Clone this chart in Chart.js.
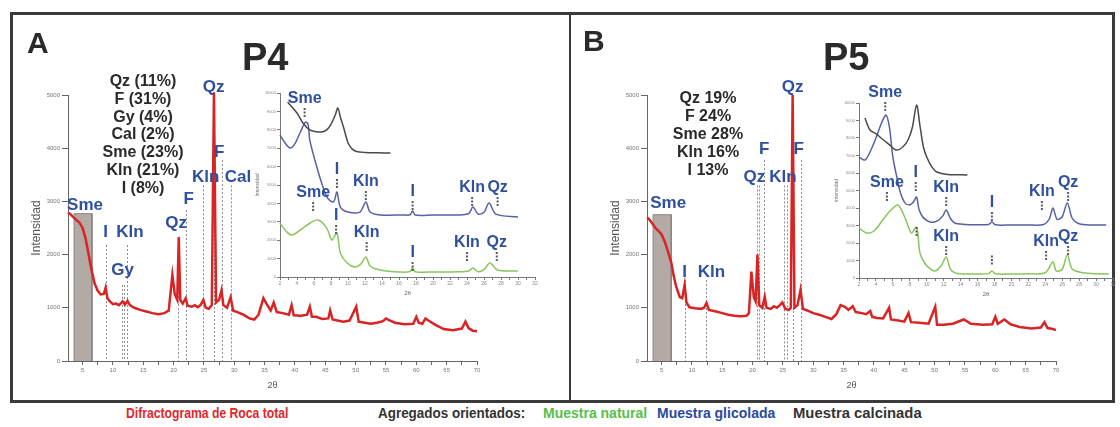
<!DOCTYPE html>
<html>
<head>
<meta charset="utf-8">
<script src="https://cdn.jsdelivr.net/npm/chart.js@4.4.1/dist/chart.umd.min.js"></script>
<style>
    body { margin: 0; background: #fff; }
    #fig { position: relative; width: 1120px; height: 427px; overflow: hidden; font-family: Arial, "Liberation Sans", sans-serif; }
    canvas { position: absolute; }
    .frame { position: absolute; border: 3px solid #3a3a3a; box-sizing: border-box; }
    .txt { position: absolute; white-space: nowrap; color: #2a2a2a; font-weight: bold; }
    .comp { position: absolute; text-align: center; font-weight: bold; font-size: 16px; line-height: 17.8px; color: #2a2a2a; white-space: nowrap; }
    .leg { position: absolute; top: 405px; font-family: Arial, "Liberation Sans", sans-serif; font-weight: bold; font-size: 14px; line-height: 16px; white-space: nowrap; transform-origin: left center; }
</style>
</head>
<body>
<div id="fig">
    <div class="frame" style="left:10px;top:12px;width:1105px;height:391px"></div>
    <div style="position:absolute;left:569px;top:12px;width:2px;height:391px;background:#3a3a3a"></div>

    <canvas id="mainA" width="556" height="382" style="left:12px;top:14px"></canvas>
    <canvas id="mainB" width="530" height="382" style="left:590px;top:14px"></canvas>
    <canvas id="insetA" width="300" height="225" style="left:240px;top:80px"></canvas>
    <canvas id="insetB" width="300" height="230" style="left:820px;top:75px"></canvas>

    <div class="txt" style="left:27px;top:28px;font-size:30px;line-height:30px">A</div>
    <div class="txt" style="left:242px;top:38px;font-size:38px;line-height:38px">P4</div>
    <div class="txt" style="left:583px;top:26px;font-size:30px;line-height:30px">B</div>
    <div class="txt" style="left:823px;top:38px;font-size:38px;line-height:38px">P5</div>

    <div class="comp" style="left:63px;top:72px;width:160px">Qz (11%)<br>F (31%)<br>Gy (4%)<br>Cal (2%)<br>Sme (23%)<br>Kln (21%)<br>I (8%)</div>
    <div class="comp" style="left:628px;top:89px;width:160px;line-height:18px">Qz 19%<br>F 24%<br>Sme 28%<br>Kln 16%<br>I 13%</div>

    <div class="leg" style="left:126px;color:#e0282c;transform:scaleX(0.87)">Difractograma de Roca total</div>
    <div class="leg" style="left:378px;color:#333;transform:scaleX(0.96)">Agregados orientados:</div>
    <div class="leg" style="left:543px;color:#55bf48">Muestra natural</div>
    <div class="leg" style="left:657px;color:#2a4aa0">Muestra glicolada</div>
    <div class="leg" style="left:793px;color:#333;transform:scaleX(1.06)">Muestra calcinada</div>
</div>

<script>
// roca total, [2θ, intensidad]
const rockP4 = [
    [2.6, 2790], [3.0, 2760], [3.5, 2700], [4.0, 2650], [4.5, 2600], [5.0, 2500], [5.5, 2300], [6.0, 2000],
    [6.5, 1700], [7.0, 1450], [7.5, 1320], [8.0, 1250], [8.5, 1260], [8.8, 1380], [9.1, 1180], [9.5, 1120],
    [10.0, 1070], [10.5, 1080], [11.0, 1050], [11.6, 1120], [12.0, 1060], [12.4, 1130], [12.8, 1050],
    [13.5, 1000], [14.5, 960], [15.5, 930], [16.5, 900], [17.5, 880], [18.5, 900], [19.2, 950], [19.8, 1620],
    [20.2, 1250], [20.6, 1150], [20.85, 2330], [21.1, 1150], [21.5, 1080], [22.0, 1180], [22.3, 1040],
    [23.0, 1020], [23.5, 1050], [24.0, 1010], [24.5, 1060], [24.9, 1150], [25.3, 1000], [25.8, 980],
    [26.3, 1050], [26.65, 5050], [27.0, 1100], [27.5, 1150], [27.9, 1330], [28.2, 1050], [28.8, 1000],
    [29.4, 1200], [29.8, 950], [30.5, 920], [31.5, 870], [32.5, 800], [33.3, 780], [34.0, 870], [34.8, 1180],
    [35.3, 1080], [36.0, 950], [36.5, 1100], [37.0, 920], [38.0, 900], [39.0, 870], [39.45, 1050], [39.8, 860],
    [41.0, 850], [42.0, 870], [42.45, 1020], [42.8, 830], [43.5, 830], [44.5, 790], [45.5, 800], [45.8, 950],
    [46.2, 780], [47.0, 760], [48.0, 740], [49.0, 760], [50.1, 1020], [50.5, 740], [51.5, 720], [52.5, 700],
    [53.5, 720], [54.5, 750], [55.0, 800], [55.5, 770], [56.5, 720], [58.0, 690], [59.5, 700], [60.0, 830],
    [60.4, 720], [61.0, 700], [61.5, 800], [62.0, 760], [63.0, 690], [64.5, 600], [66.0, 580], [67.5, 610],
    [68.1, 740], [68.6, 620], [69.3, 570], [70.0, 560]
];
const rockP5 = [
    [2.6, 2700], [3.0, 2660], [3.5, 2580], [4.0, 2500], [4.5, 2440], [5.0, 2380], [5.5, 2250], [6.0, 2080],
    [6.6, 1850], [7.0, 1600], [7.4, 1400], [8.0, 1200], [8.4, 1180], [8.8, 1430], [9.1, 1100], [9.6, 1010],
    [10.5, 990], [11.5, 980], [12.0, 1000], [12.4, 1090], [12.8, 960], [14.0, 930], [15.0, 900], [16.0, 870],
    [17.0, 850], [18.0, 840], [19.0, 850], [19.4, 900], [19.8, 1680], [20.2, 1200], [20.5, 1120], [20.8, 2000],
    [21.1, 1050], [21.6, 1000], [22.0, 1210], [22.3, 1000], [23.0, 980], [23.5, 1030], [24.0, 1000],
    [24.5, 1050], [24.9, 1100], [25.4, 980], [26.0, 960], [26.3, 1000], [26.6, 5000], [26.9, 1000],
    [27.4, 1050], [27.9, 1340], [28.3, 980], [29.0, 950], [30.0, 900], [31.0, 870], [32.0, 830], [33.0, 790],
    [33.8, 880], [34.5, 1050], [35.2, 1020], [35.8, 960], [36.5, 1030], [37.0, 920], [38.0, 900], [38.7, 880],
    [39.4, 940], [39.7, 830], [40.5, 810], [41.5, 800], [42.5, 1000], [42.8, 780], [44.0, 760], [45.0, 740],
    [45.7, 900], [46.1, 730], [47.5, 720], [49.0, 700], [50.1, 1020], [50.4, 680], [51.5, 680], [53.0, 700],
    [54.8, 780], [56.0, 700], [58.0, 680], [59.5, 690], [60.0, 830], [60.4, 700], [61.5, 780], [62.5, 690],
    [64.0, 640], [66.0, 610], [67.5, 630], [68.1, 730], [68.6, 620], [69.5, 600], [70.0, 580]
];
// zona sombreada de la esmectita [2θ inicio, 2θ fin, altura]
const smeBandP4 = [3.6, 6.55, 2770];
const smeBandP5 = [3.6, 6.6, 2750];

// agregados orientados
const naturalP4 = [
    [2.0, 2930], [2.7, 2500], [3.4, 2280], [4.7, 2660], [5.6, 2950], [6.5, 3100], [7.5, 2660], [8.1, 2010],
    [8.7, 2390], [9.1, 1300], [9.9, 760], [10.8, 540], [11.5, 700], [12.1, 1090], [12.6, 600], [13.8, 380],
    [16.1, 270], [17.3, 300], [17.6, 500], [17.9, 290], [20.0, 270], [23.0, 280], [24.2, 330], [24.7, 490],
    [25.3, 290], [26.0, 400], [26.7, 760], [27.6, 380], [30.0, 330]
];
const glycolP4 = [
    [2.0, 7720], [2.6, 7280], [3.2, 7010], [3.8, 7280], [4.4, 7880], [5.0, 8420], [5.3, 8300], [5.5, 7450],
    [6.1, 6360], [6.9, 5110], [7.6, 4290], [8.3, 4080], [8.7, 4620], [9.1, 3800], [10.0, 3530], [11.4, 3530],
    [12.1, 4080], [12.6, 3530], [13.8, 3370], [16.5, 3370], [17.3, 3380], [17.6, 3590], [17.9, 3370],
    [20.0, 3370], [23.0, 3370], [24.2, 3450], [24.7, 3800], [25.3, 3420], [26.0, 3520], [26.6, 4020],
    [27.4, 3420], [30.0, 3260]
];
const calcP4 = [
    [2.9, 9510], [4.0, 8910], [4.7, 8370], [5.5, 7990], [6.2, 7900], [6.9, 7880], [7.5, 8000], [8.0, 8300],
    [8.5, 8800], [8.8, 9190], [9.1, 8700], [9.5, 8100], [10.0, 7300], [10.5, 6950], [11.0, 6820], [12.0, 6770],
    [13.5, 6750], [15.0, 6740]
];
const naturalP5 = [
    [2.0, 2860], [2.9, 2570], [3.8, 2700], [4.8, 3310], [5.8, 3900], [6.6, 4170], [7.2, 3700], [7.7, 3100],
    [8.2, 2570], [8.8, 2900], [9.2, 1430], [9.7, 900], [10.3, 560], [11.0, 400], [11.7, 700], [12.3, 1200],
    [12.8, 500], [13.4, 290], [15.0, 230], [17.3, 250], [17.7, 400], [18.1, 240], [20.0, 230], [22.0, 240],
    [24.0, 300], [24.9, 910], [25.3, 400], [26.0, 500], [26.6, 1310], [27.2, 500], [28.5, 300], [30.0, 240],
    [31.5, 230]
];
const glycolP5 = [
    [2.0, 6910], [2.7, 6740], [3.3, 7200], [4.0, 8000], [4.7, 8900], [5.2, 9310], [5.6, 8600], [6.0, 6910],
    [6.5, 5700], [6.9, 4860], [7.5, 4250], [8.1, 4200], [8.5, 4400], [8.8, 4630], [9.1, 3900], [9.6, 3450],
    [10.4, 3200], [11.2, 3250], [11.9, 3550], [12.3, 3890], [12.8, 3400], [13.3, 3140], [14.5, 3060],
    [16.0, 3040], [17.3, 3060], [17.7, 3200], [18.1, 3040], [20.0, 3030], [22.0, 3030], [23.8, 3060],
    [24.5, 3400], [24.9, 4000], [25.4, 3350], [26.0, 3500], [26.6, 4290], [27.2, 3400], [28.0, 3100],
    [29.5, 3030], [31.2, 3030]
];
const calcP5 = [
    [2.7, 9140], [3.3, 8460], [4.0, 8250], [4.6, 8000], [5.5, 7650], [6.4, 7310], [7.2, 7500], [7.8, 7900],
    [8.3, 8600], [8.8, 9890], [9.2, 8700], [9.6, 7500], [10.0, 6910], [10.6, 6350], [11.2, 6060],
    [12.5, 5920], [14.8, 5890]
];

// ticks
const mainTicks = [5, 7.5, 10, 12.5, 15, 17.5, 20, 22.5, 25, 27.5, 30, 32.5, 35, 37.5, 40, 42.5, 45, 47.5,
    50, 52.5, 55, 57.5, 60, 62.5, 65, 67.5, 70];
const insetTicks = [2, 3, 4, 5, 6, 7, 8, 9, 10, 11, 12, 13, 14, 15, 16, 17, 18, 19, 20, 21, 22, 23, 24, 25,
    26, 27, 28, 29, 30, 31, 32];

// picos: [2θ, tope de la linea]
const linesP4 = [[8.8, 2180], [11.5, 1430], [11.8, 1430], [12.4, 2180], [20.8, 2270], [22.0, 2840],
    [24.9, 3300], [26.6, 5000], [27.9, 3780], [29.4, 3300]];
const linesP5 = [[8.8, 1520], [12.4, 1520], [20.7, 3300], [21.0, 3300], [21.9, 3780], [25.2, 3300],
    [25.6, 3300], [26.6, 5000], [27.9, 3780]];
// etiquetas [2θ, intensidad, texto]
const labelsP4 = [[5.4, 2930, 'Sme'], [8.8, 2420, 'I'], [12.8, 2420, 'Kln'], [11.6, 1710, 'Gy'],
    [20.4, 2580, 'Qz'], [22.5, 3030, 'F'], [25.3, 3460, 'Kln'], [26.6, 5150, 'Qz'], [27.5, 3930, 'F'],
    [30.6, 3460, 'Cal']];
const labelsP5 = [[6.1, 2970, 'Sme'], [8.8, 1670, 'I'], [13.2, 1670, 'Kln'], [20.3, 3460, 'Qz'],
    [21.9, 3970, 'F'], [25.0, 3460, 'Kln'], [26.6, 5150, 'Qz'], [27.6, 3970, 'F']];
const insetLabelsP4 = [[4.9, 9670, 'Sme'], [8.7, 5820, 'I'], [12.1, 5160, 'Kln'], [5.9, 4570, 'Sme'],
    [17.6, 4620, 'I'], [24.6, 4840, 'Kln'], [27.6, 4840, 'Qz'], [8.6, 3320, 'I'], [12.2, 2390, 'Kln'],
    [17.6, 1300, 'I'], [24.0, 1850, 'Kln'], [27.5, 1850, 'Qz']];
const insetLabelsP5 = [[5.1, 10570, 'Sme'], [5.3, 5430, 'Sme'], [8.7, 6000, 'I'], [12.3, 5140, 'Kln'],
    [17.7, 4290, 'I'], [23.6, 4910, 'Kln'], [26.7, 5430, 'Qz'], [8.8, 3430, ''], [12.3, 2340, 'Kln'],
    [17.7, 1800, ''], [24.1, 2060, 'Kln'], [26.7, 2340, 'Qz']];

const peakPlugin = {
    id: 'peaks',
    beforeDatasetsDraw(chart, args, opts) {
        const { ctx, scales: { x, y } } = chart;
        ctx.save();
        ctx.strokeStyle = '#8c8c8c';
        ctx.lineWidth = 1;
        ctx.setLineDash([2, 2]);
        (opts.lines || []).forEach(l => {
            const px = Math.round(x.getPixelForValue(l[0])) + 0.5;
            ctx.beginPath();
            ctx.moveTo(px, y.getPixelForValue(l[1]));
            ctx.lineTo(px, y.getPixelForValue(0));
            ctx.stroke();
        });
        ctx.restore();
    },
    afterDatasetsDraw(chart, args, opts) {
        const { ctx, scales: { x, y } } = chart;
        ctx.save();
        ctx.textAlign = 'center';
        ctx.textBaseline = 'middle';
        (opts.labels || []).forEach(l => {
            const px = x.getPixelForValue(l[0]);
            const py = y.getPixelForValue(l[1]);
            ctx.font = opts.font;
            ctx.fillStyle = opts.color;
            if (l[2]) ctx.fillText(l[2], px, py);
            if (opts.marks) {
                // marca punteada bajo la etiqueta
                ctx.strokeStyle = '#5a5a5a';
                ctx.lineWidth = 2;
                ctx.setLineDash([2, 1.5]);
                ctx.beginPath();
                ctx.moveTo(px, py + 9);
                ctx.lineTo(px, py + 18);
                ctx.stroke();
                ctx.setLineDash([]);
            }
        });
        ctx.restore();
    }
};

function toXY(arr) {
    return arr.map(p => ({ x: p[0], y: p[1] }));
}

function drawMain(id, rock, band, lines, labels, padLeft, padRight) {
    const ctx = document.getElementById(id).getContext('2d');
    const bandData = [
        { x: band[0], y: 0 }, { x: band[0], y: band[2] }, { x: band[1], y: band[2] }, { x: band[1], y: 0 }
    ];
    new Chart(ctx, {
        type: 'line',
        data: {
            datasets: [
                { data: toXY(rock), borderColor: '#d82424', borderWidth: 2.5, pointRadius: 0, tension: 0, clip: false, order: 0 },
                { data: bandData, borderColor: '#8d8480', backgroundColor: '#b3aaa6', borderWidth: 1, pointRadius: 0, fill: 'origin', order: 1 }
            ]
        },
        options: {
            responsive: false,
            animation: false,
            events: [],
            layout: { padding: { left: padLeft, right: padRight, top: 81, bottom: 5 } },
            plugins: {
                legend: { display: false },
                tooltip: { enabled: false },
                peaks: { lines: lines, labels: labels, font: 'bold 17px Arial', color: '#2f4f9f', marks: false }
            },
            scales: {
                x: {
                    type: 'linear', min: 2.6, max: 70,
                    afterBuildTicks: s => { s.ticks = mainTicks.map(v => ({ value: v })); },
                    afterFit: s => { s.height = 30; },
                    ticks: { autoSkip: false, maxRotation: 0, font: { size: 6 }, color: '#777', padding: 2,
                        callback: v => (v % 5 === 0 ? String(v) : '') },
                    grid: { drawOnChartArea: false, drawTicks: true, tickLength: 4, color: '#666' },
                    border: { display: true, color: '#666', width: 1 },
                    title: { display: true, text: '2θ', font: { size: 9 }, color: '#555', padding: 0 }
                },
                y: {
                    type: 'linear', min: 0, max: 5000,
                    afterFit: s => { s.width = 40; },
                    ticks: { stepSize: 1000, font: { size: 6 }, color: '#777', padding: 2, callback: v => String(v) },
                    grid: { drawOnChartArea: false, drawTicks: true, tickLength: 6, color: '#666' },
                    border: { display: true, color: '#666', width: 1 },
                    title: { display: true, text: 'Intensidad', font: { size: 12 }, color: '#555', padding: { top: 1, bottom: 0 } }
                }
            }
        },
        plugins: [peakPlugin]
    });
}

function drawInset(id, natural, glycol, calc, labels, pad) {
    const ctx = document.getElementById(id).getContext('2d');
    new Chart(ctx, {
        type: 'line',
        data: {
            datasets: [
                { data: toXY(calc), borderColor: '#4a4a4a', borderWidth: 1.5, pointRadius: 0, tension: 0.3, clip: false },
                { data: toXY(glycol), borderColor: '#5661a6', borderWidth: 1.5, pointRadius: 0, tension: 0.3, clip: false },
                { data: toXY(natural), borderColor: '#88c65e', borderWidth: 1.5, pointRadius: 0, tension: 0.3, clip: false }
            ]
        },
        options: {
            responsive: false,
            animation: false,
            events: [],
            layout: { padding: pad },
            plugins: {
                legend: { display: false },
                tooltip: { enabled: false },
                peaks: { lines: [], labels: labels, font: 'bold 16px Arial', color: '#2f4f9f', marks: true }
            },
            scales: {
                x: {
                    type: 'linear', min: 2, max: 32,
                    afterBuildTicks: s => { s.ticks = insetTicks.map(v => ({ value: v })); },
                    afterFit: s => { s.height = 20; },
                    ticks: { autoSkip: false, maxRotation: 0, font: { size: 5 }, color: '#888', padding: 1,
                        callback: v => (v % 2 === 0 ? String(v) : '') },
                    grid: { drawOnChartArea: false, drawTicks: true, tickLength: 3, color: '#777' },
                    border: { display: true, color: '#777', width: 1 },
                    title: { display: true, text: '2θ', font: { size: 6 }, color: '#666', padding: 0 }
                },
                y: {
                    type: 'linear', min: 0, max: 10000,
                    afterFit: s => { s.width = 25; },
                    ticks: { stepSize: 1000, font: { size: 4 }, color: '#888', padding: 1, callback: v => String(v) },
                    grid: { drawOnChartArea: false, drawTicks: true, tickLength: 3, color: '#777' },
                    border: { display: true, color: '#777', width: 1 },
                    title: { display: true, text: 'Intensidad', font: { size: 5 }, color: '#777', padding: 0 }
                }
            }
        },
        plugins: [peakPlugin]
    });
}

document.addEventListener('DOMContentLoaded', () => {
    drawMain('mainA', rockP4, smeBandP4, linesP4, labelsP4, 16, 91);
    drawMain('mainB', rockP5, smeBandP5, linesP5, labelsP5, 17, 64);
    drawInset('insetA', naturalP4, glycolP4, calcP4, insetLabelsP4, { left: 15, right: 5, top: 13, bottom: 8 });
    drawInset('insetB', naturalP5, glycolP5, calcP5, insetLabelsP5, { left: 14, right: 7, top: 28, bottom: 7 });
});
</script>
</body>
</html>
